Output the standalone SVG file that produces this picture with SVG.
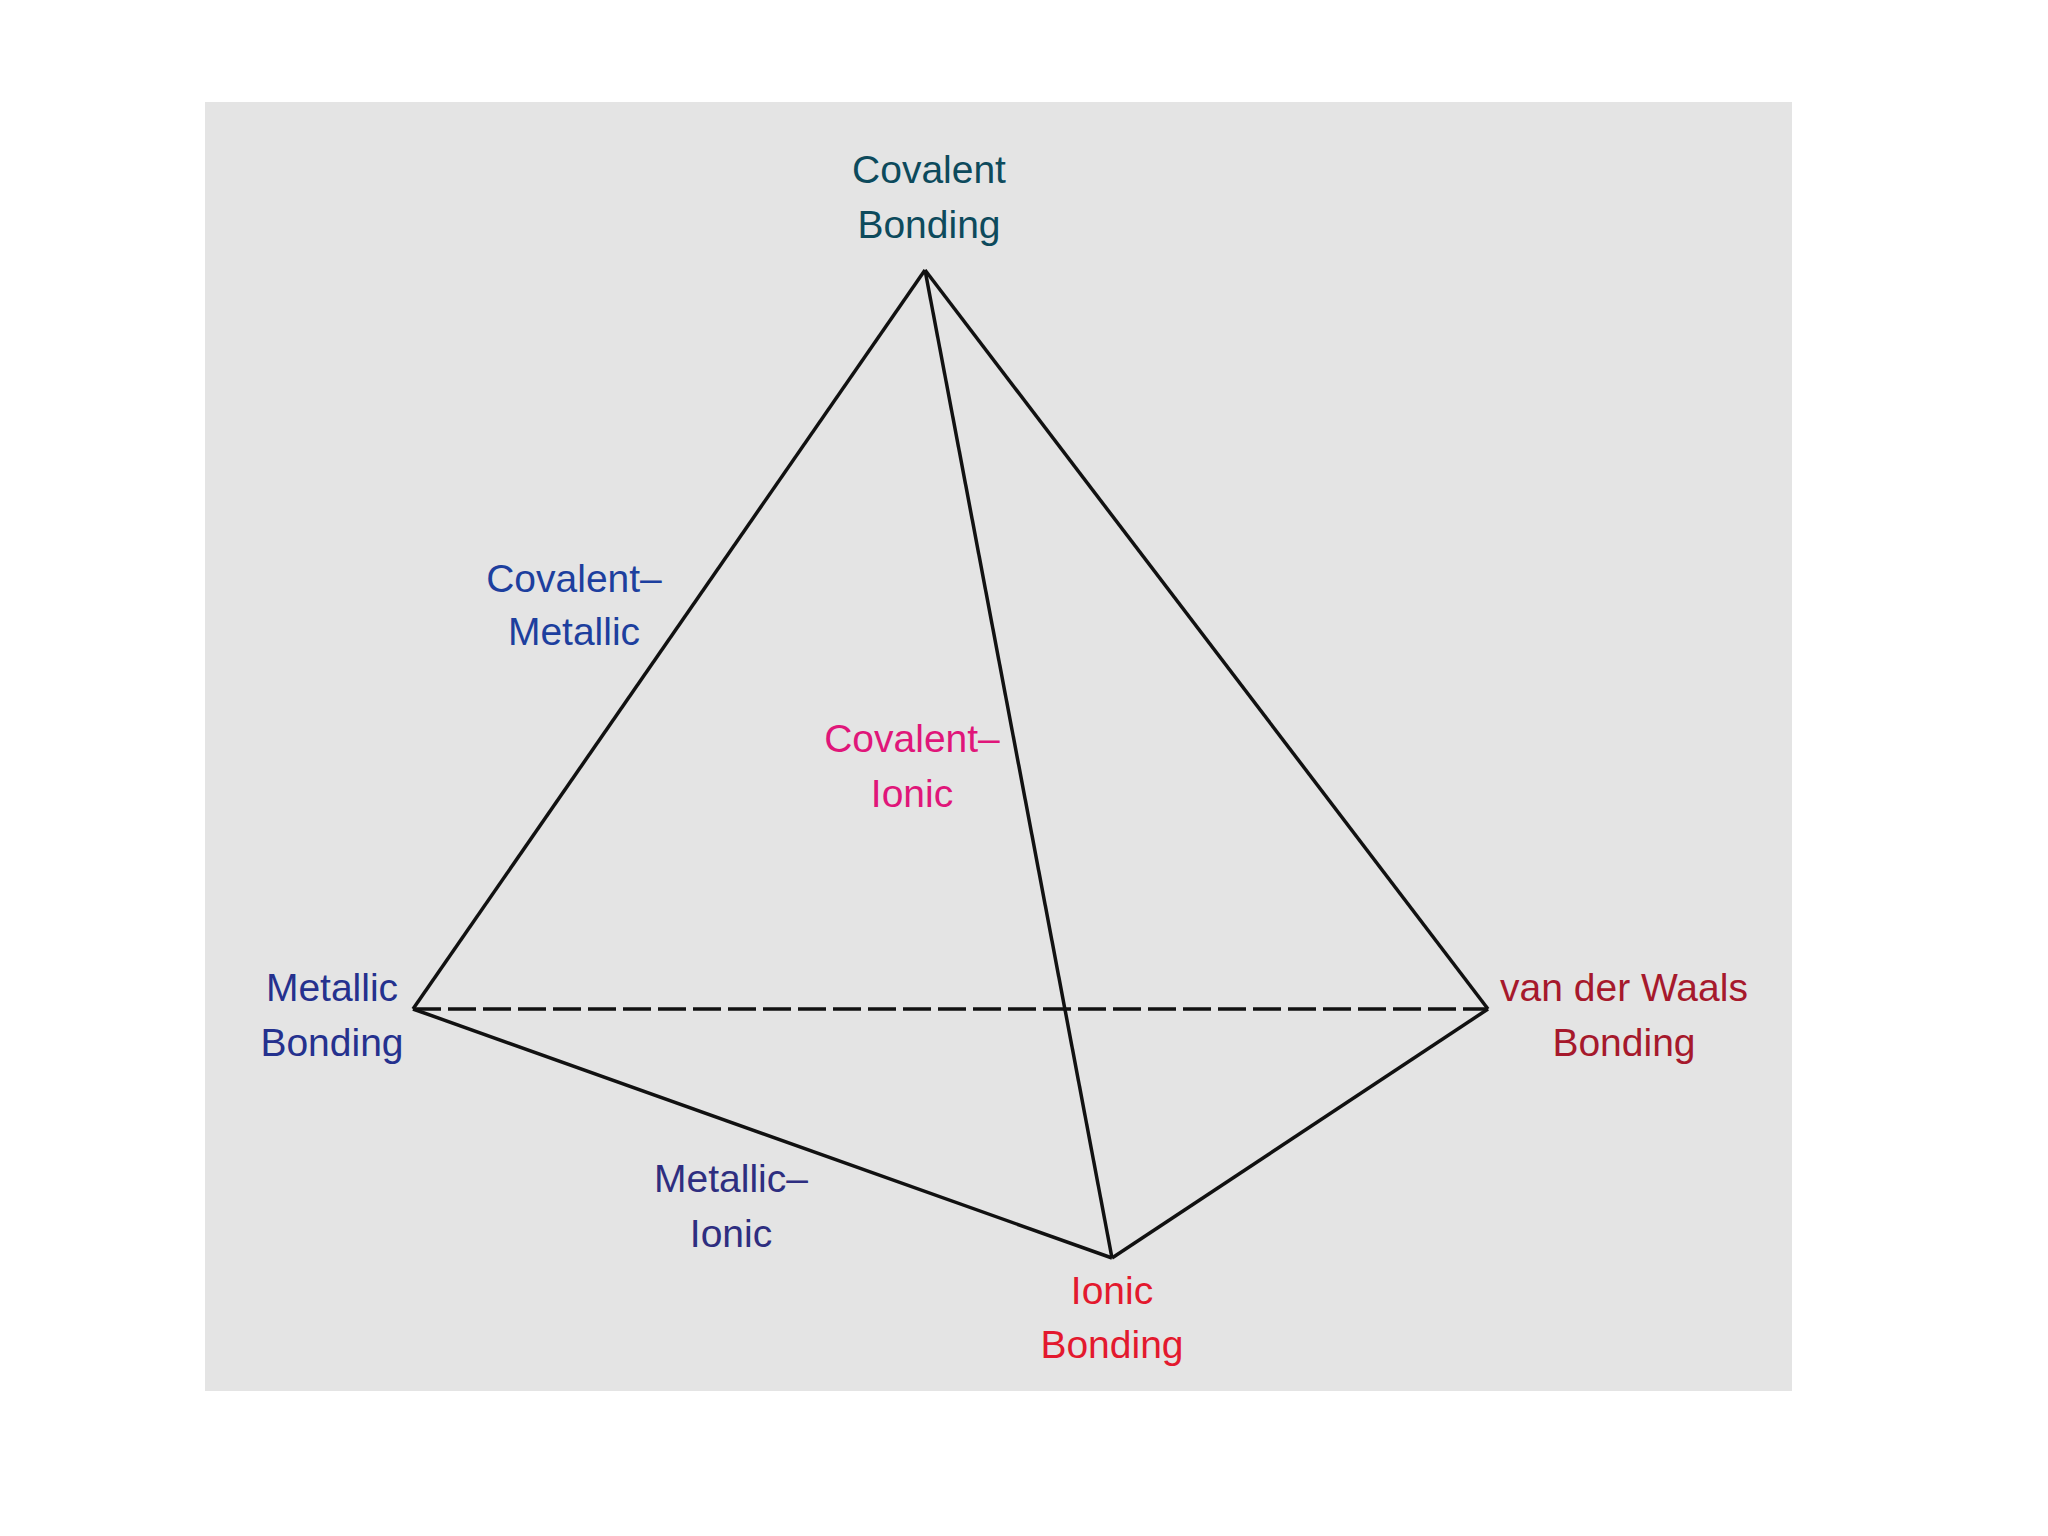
<svg xmlns="http://www.w3.org/2000/svg" width="2048" height="1536" viewBox="0 0 2048 1536">
<style>
.t{font-family:"Liberation Sans",Arial,sans-serif;font-size:39px;text-anchor:middle}
.e{stroke:#111;stroke-width:3.5;fill:none;stroke-linejoin:miter}
</style>
<rect x="0" y="0" width="2048" height="1536" fill="#ffffff"/>
<rect x="205" y="102" width="1587" height="1289" fill="#e4e4e4"/>
<g id="connectors">
<line class="e" x1="925" y1="270" x2="413" y2="1009"/>
<line class="e" x1="925" y1="270" x2="1488" y2="1009"/>
<line class="e" x1="925" y1="270" x2="1112" y2="1258"/>
<line class="e" x1="413" y1="1009" x2="1112" y2="1258"/>
<line class="e" x1="1488" y1="1009" x2="1112" y2="1258"/>
<line class="e" x1="413" y1="1009" x2="1488" y2="1009" stroke-dasharray="28 7"/>
</g>
<g id="covalent"><text class="t" fill="#0d4a5c" x="929" y="183">Covalent</text><text class="t" fill="#0d4a5c" x="929" y="238">Bonding</text></g>
<g id="covalent-metallic"><text class="t" fill="#1d3f9e" x="574" y="592">Covalent–</text><text class="t" fill="#1d3f9e" x="574" y="645">Metallic</text></g>
<g id="covalent-ionic"><text class="t" fill="#e0167a" x="912" y="752">Covalent–</text><text class="t" fill="#e0167a" x="912" y="807">Ionic</text></g>
<g id="metallic"><text class="t" fill="#25318e" x="332" y="1001">Metallic</text><text class="t" fill="#25318e" x="332" y="1056">Bonding</text></g>
<g id="vanderwaals"><text class="t" fill="#a6192c" x="1624" y="1001">van der Waals</text><text class="t" fill="#a6192c" x="1624" y="1056">Bonding</text></g>
<g id="metallic-ionic"><text class="t" fill="#2e2e80" x="731" y="1192">Metallic–</text><text class="t" fill="#2e2e80" x="731" y="1247">Ionic</text></g>
<g id="ionic"><text class="t" fill="#e3192e" x="1112" y="1304">Ionic</text><text class="t" fill="#e3192e" x="1112" y="1358">Bonding</text></g>
</svg>
